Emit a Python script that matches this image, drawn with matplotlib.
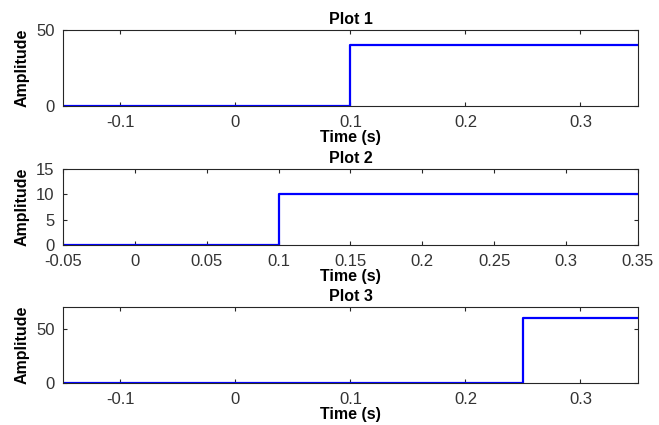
import matplotlib.pyplot as plt

plt.rcParams['font.family'] = ['Liberation Sans', 'DejaVu Sans']

# step signals: time points and amplitudes
t1 = [-0.15, 0.1, 0.1, 0.35]
a1 = [0, 0, 40, 40]
t2 = [-0.05, 0.1, 0.1, 0.35]
a2 = [0, 0, 10, 10]
t3 = [-0.15, 0.25, 0.25, 0.35]
a3 = [0, 0, 60, 60]

titles = ['Plot 1', 'Plot 2', 'Plot 3']
xlims = [(-0.15, 0.35), (-0.05, 0.35), (-0.15, 0.35)]
ylims = [(0, 50), (0, 15), (0, 70)]
xticks = [[-0.1, 0, 0.1, 0.2, 0.3],
          [-0.05, 0, 0.05, 0.1, 0.15, 0.2, 0.25, 0.3, 0.35],
          [-0.1, 0, 0.1, 0.2, 0.3]]
xticklabels = [['-0.1', '0', '0.1', '0.2', '0.3'],
               ['-0.05', '0', '0.05', '0.1', '0.15', '0.2', '0.25', '0.3', '0.35'],
               ['-0.1', '0', '0.1', '0.2', '0.3']]
yticks = [[0, 50], [0, 5, 10, 15], [0, 50]]

fig = plt.figure(figsize=(6.59, 4.25), dpi=100)
pos = [(0.0956, 0.7506, 0.8724, 0.1788),
       (0.0956, 0.4235, 0.8724, 0.1789),
       (0.0956, 0.0988, 0.8724, 0.1788)]

edge = '#262626'
for i, (t, a) in enumerate([(t1, a1), (t2, a2), (t3, a3)]):
    ax = fig.add_axes(pos[i])
    ax.plot(t, a, color='#0000ff', linewidth=1.6)
    ax.set_xlim(xlims[i])
    ax.set_ylim(ylims[i])
    ax.set_xticks(xticks[i])
    ax.set_xticklabels(xticklabels[i])
    ax.set_yticks(yticks[i])
    ax.tick_params(direction='in', top=True, right=True, length=3,
                   width=0.8, color=edge, labelcolor='#333333', labelsize=12)
    ax.tick_params(axis='x', pad=6.5)
    ax.tick_params(axis='y', pad=6)
    for s in ax.spines.values():
        s.set_color(edge)
        s.set_linewidth(0.8)
    ax.set_title(titles[i], fontsize=11.5, fontweight='bold', pad=4)
    ax.set_xlabel('Time (s)', fontsize=11.5, fontweight='bold', labelpad=0)
    ax.set_ylabel('Amplitude', fontsize=11.5, fontweight='bold', labelpad=5)

fig.savefig('out.png', dpi=100)
